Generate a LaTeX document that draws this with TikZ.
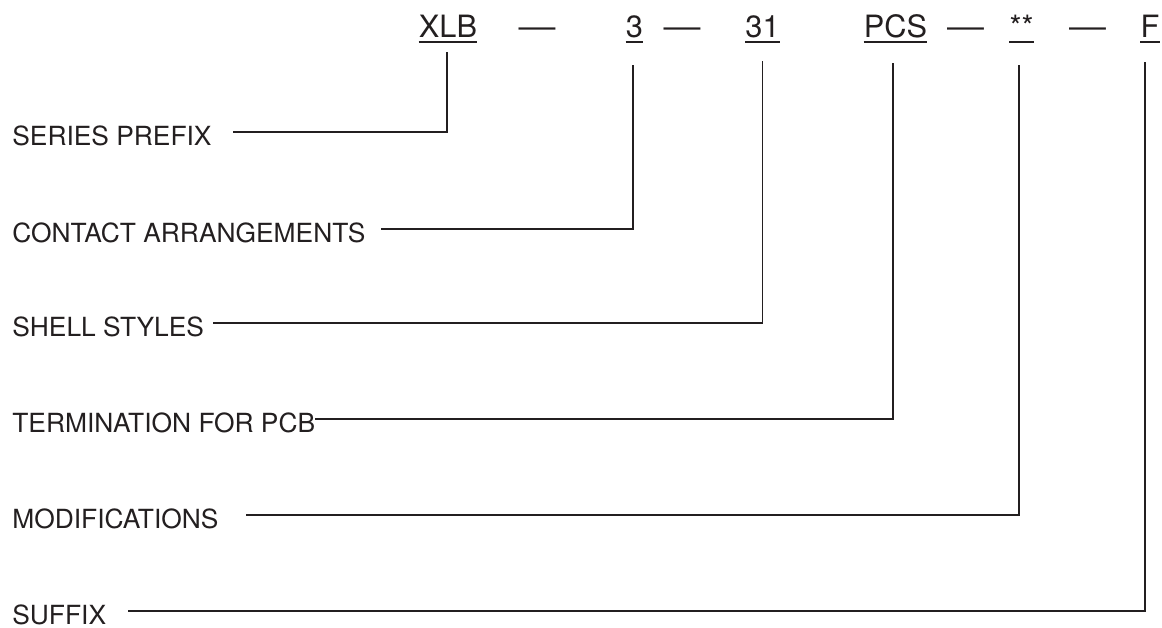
\documentclass[tikz,border=0pt]{standalone}
\usepackage{fontspec}
\setmainfont{TeX Gyre Heros}
\definecolor{ink}{RGB}{35,31,32}

\begin{document}
\begin{tikzpicture}[
  code/.style={inner sep=0pt,text depth=0pt,anchor=base,text=ink,font=\fontsize{17.5}{21}\selectfont},
  dash line/.style={code,xscale=1.2},
  lbl/.style={inner sep=0pt,text depth=0pt,anchor=base west,text=ink,font=\fontsize{15}{18}\selectfont},
  link/.style={draw=ink,line width=1.1pt},
  uline/.style={draw=ink,line width=1.2pt}]
\useasboundingbox (0,0) rectangle (23.24,12.56);

\node[code] (pxlb) at (8.96,11.8) {XLB};
\node[dash line] (d1) at (10.74,11.8) {—};
\node[code] (p3) at (12.69,11.8) {3};
\node[dash line] (d2) at (13.64,11.8) {—};
\node[code] (p31) at (15.25,11.8) {31};
\node[code] (ppcs) at (17.91,11.8) {PCS};
\node[dash line] (d3) at (19.31,11.8) {—};
\node[code] (pmod) at (20.43,11.8) {**};
\node[dash line] (d4) at (21.75,11.8) {—};
\node[code] (pf) at (23.0,11.8) {F};

\foreach \n in {pxlb,p3,p31,ppcs,pmod,pf}
  \draw[uline] ([yshift=-0.08cm]\n.base west) -- ([yshift=-0.08cm]\n.base east);

\node[lbl] (lseries) at (0.24,9.64) {SERIES PREFIX};
\node[lbl] (lcontact) at (0.24,7.70) {CONTACT ARRANGEMENTS};
\node[lbl] (lshell) at (0.24,5.82) {SHELL STYLES};
\node[lbl] (lterm) at (0.24,3.90) {TERMINATION FOR PCB};
\node[lbl] (lmod) at (0.24,1.98) {MODIFICATIONS};
\node[lbl] (lsuffix) at (0.24,0.07) {SUFFIX};

\draw[link] ([xshift=-0.02cm,yshift=-0.28cm]pxlb.south) |- ([xshift=0.42cm,yshift=2.3pt]lseries.east);

\draw[link] ([xshift=-0.03cm,yshift=-0.54cm]p3.south) |- ([xshift=0.3cm,yshift=2.3pt]lcontact.east);

\draw[link] ([yshift=-0.46cm]p31.south) |- ([xshift=0.18cm,yshift=2.3pt]lshell.east);

\draw[link] ([xshift=-0.05cm,yshift=-0.5cm]ppcs.south) |- ([yshift=2.3pt]lterm.east);

\draw[link] ([xshift=-0.05cm,yshift=-0.54cm]pmod.south) |- ([xshift=0.54cm,yshift=2.3pt]lmod.east);

\draw[link] ([xshift=-0.1cm,yshift=-0.48cm]pf.south) |- ([xshift=0.44cm,yshift=2.3pt]lsuffix.east);

\end{tikzpicture}
\end{document}
